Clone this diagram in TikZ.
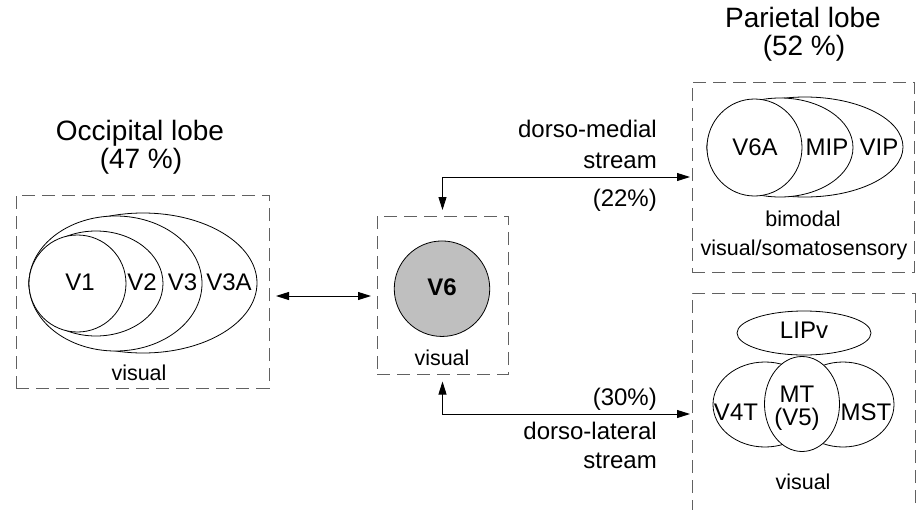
\documentclass[tikz,border=0pt]{standalone}
\usepackage{fontspec}
\setmainfont{Liberation Sans}
\usetikzlibrary{arrows.meta}
\begin{document}
\begin{tikzpicture}[x=1pt,y=-1pt,
  dbox/.style={draw=black!62, dash pattern=on 13pt off 7pt, line width=1pt, inner sep=0pt, outer sep=0pt},
  area/.style={draw=black, line width=0.8pt, fill=white},
  arr/.style={{Triangle[length=13pt,width=8pt]}-{Triangle[length=13pt,width=8pt]}, line width=0.9pt},
  lab/.style={font=\fontsize{24}{28}\selectfont, inner sep=0pt, anchor=base},
  ann/.style={font=\fontsize{24}{30}\selectfont, inner sep=0pt, anchor=base east},
  sm/.style={font=\fontsize{21.5}{26}\selectfont, inner sep=0pt, anchor=base},
  ttl/.style={font=\fontsize{28}{30}\selectfont, inner sep=0pt, anchor=base}]
\clip (0,0) rectangle (916,509);
\useasboundingbox (0,0) rectangle (916,509);

% boxes
\node[dbox, minimum width=253pt, minimum height=193pt] (occ) at (142.5,291.5) {};
\node[dbox, minimum width=131pt, minimum height=158pt] (v6box) at (442.5,295) {};
\node[dbox, minimum width=222pt, minimum height=190pt] (par) at (803,177) {};
\node[dbox, minimum width=223pt, minimum height=247pt] (low) at (803.5,416.5) {};

% titles
\node[ttl] (t1a) at (140,140) {Occipital lobe};
\node[ttl] (t1b) at (141,168) {(47 \%)};
\node[ttl] (t2a) at (803,27) {Parietal lobe};
\node[ttl] (t2b) at (804,55) {(52 \%)};

% occipital areas
\draw[area] (143,283) ellipse [x radius=114pt, y radius=70pt];
\draw[area] (115.5,283.5) ellipse [x radius=86.5pt, y radius=67.5pt];
\draw[area] (96,283.5) ellipse [x radius=67pt, y radius=52.5pt];
\draw[area] (77.5,283.5) ellipse [x radius=48.5pt, y radius=48.5pt];
\node[lab] (v1) at (80,290) {V1};
\node[lab] (v2) at (142,290) {V2};
\node[lab] (v3) at (182.5,290) {V3};
\node[lab] (v3a) at (229,290) {V3A};
\node[sm] (occvis) at (139,380) {visual};

% V6
\node[circle, draw=black, line width=0.8pt, fill=black!25, minimum size=95.5pt, inner sep=0pt] (v6c) at (442,288.7) {};
\node[lab, font=\fontsize{24}{28}\selectfont\bfseries] (v6) at (442,295) {V6};
\node[sm] (v6vis) at (442,365) {visual};

% parietal upper
\draw[area] (805,147) ellipse [x radius=98pt, y radius=50pt];
\draw[area] (780,147.5) ellipse [x radius=73pt, y radius=49.5pt];
\draw[area] (754.5,147.5) ellipse [x radius=47.5pt, y radius=48.5pt];
\node[lab] (v6a) at (755,155.7) {V6A};
\node[lab] (mip) at (827,155.7) {MIP};
\node[lab] (vip) at (879,155.7) {VIP};
\node[sm] (bim) at (803,226.7) {bimodal};
\node[sm] (vsom) at (804,255) {visual/somatosensory};

% parietal lower
\draw[area] (804,333) ellipse [x radius=67pt, y radius=22pt];
\draw[area] (765,404.5) ellipse [x radius=52pt, y radius=42.5pt];
\draw[area] (843,404.5) ellipse [x radius=51pt, y radius=42.5pt];
\draw[area] (802,404) ellipse [x radius=37.5pt, y radius=47.5pt];
\node[lab] (lipv) at (804,338.3) {LIPv};
\node[lab] (v4t) at (736,420) {V4T};
\node[lab] (mt) at (797,402.7) {MT};
\node[lab] (v5) at (797,425) {(V5)};
\node[lab] (mst) at (866,420) {MST};
\node[sm] (lowvis) at (803,489.3) {visual};

% connectors
\coordinate (e1) at (442,177);
\coordinate (e2) at (442,414);
\draw[arr, shorten <=6pt, shorten >=2pt] (v6box.north) |- (par.west |- e1);
\draw[arr, shorten <=7.5pt, shorten >=2pt] (v6box.south) |- (low.west |- e2);
\draw[arr, shorten <=7pt, shorten >=6pt] (occ.east |- 0,296) -- (v6box.west |- 0,296);

% stream labels
\node[ann] (dm1) at (657,137.7) {dorso-medial};
\node[ann] (dm2) at (657,168) {stream};
\node[ann] (p22) at (657,206) {(22\%)};
\node[ann] (p30) at (657,405) {(30\%)};
\node[ann] (dl1) at (657,439.3) {dorso-lateral};
\node[ann] (dl2) at (657,468.3) {stream};
\end{tikzpicture}
\end{document}
